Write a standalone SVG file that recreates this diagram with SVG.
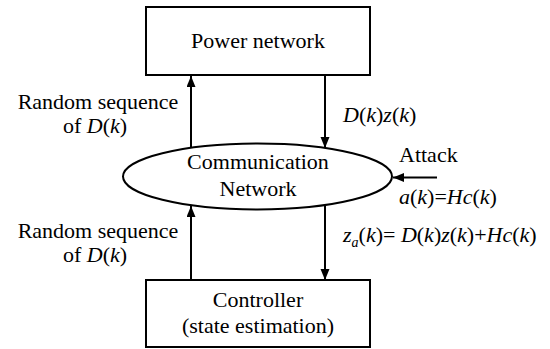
<svg xmlns="http://www.w3.org/2000/svg" width="550" height="349" viewBox="0 0 550 349">
<style>
.t{font-family:'Liberation Serif','Times New Roman',Times,serif;font-size:22px;fill:#000}
.m{text-anchor:middle}
.i{font-style:italic}
.box{fill:#fff;stroke:#000;stroke-width:2}
.ln{stroke:#000;stroke-width:2;fill:none}
</style>
<defs>
<marker id="ah" markerUnits="userSpaceOnUse" markerWidth="12" markerHeight="10" refX="11" refY="4.5" orient="auto">
<path d="M0,0 L11,4.5 L0,9 z" fill="#000"/>
</marker>
</defs>
<rect width="550" height="349" fill="#fff"/>
<g id="power-network">
<rect class="box" x="146" y="7" width="224" height="68"/>
<text class="t m" font-family="Liberation Serif, serif" x="258" y="48">Power network</text>
</g>
<g id="communication-network">
<ellipse class="ln" cx="257.5" cy="176.5" rx="134.5" ry="33"/>
<text class="t m" font-family="Liberation Serif, serif" x="258" y="169">Communication</text>
<text class="t m" font-family="Liberation Serif, serif" x="258" y="196">Network</text>
</g>
<g id="controller">
<rect class="box" x="146" y="280" width="224" height="67"/>
<text class="t m" font-family="Liberation Serif, serif" x="258" y="307">Controller</text>
<text class="t m" font-family="Liberation Serif, serif" x="258" y="333">(state estimation)</text>
</g>
<g id="connectors">
<line class="ln" x1="191" y1="148" x2="191" y2="76" marker-end="url(#ah)"/>
<line class="ln" x1="325" y1="75" x2="325" y2="148" marker-end="url(#ah)"/>
<line class="ln" x1="191" y1="280" x2="191" y2="206" marker-end="url(#ah)"/>
<line class="ln" x1="325" y1="206" x2="325" y2="280" marker-end="url(#ah)"/>
<line class="ln" x1="437" y1="177.5" x2="393" y2="177.5" marker-end="url(#ah)"/>
</g>
<g id="labels" font-family="Liberation Serif, serif">
<text class="t m" x="98" y="109">Random sequence</text>
<text class="t m" x="95" y="133">of <tspan class="i">D</tspan>(<tspan class="i">k</tspan>)</text>
<text class="t m" x="98" y="238">Random sequence</text>
<text class="t m" x="95" y="262">of <tspan class="i">D</tspan>(<tspan class="i">k</tspan>)</text>
<text class="t" x="343" y="122"><tspan class="i">D</tspan>(<tspan class="i">k</tspan>)<tspan class="i">z</tspan>(<tspan class="i">k</tspan>)</text>
<text class="t" x="399" y="162">Attack</text>
<text class="t" x="399" y="204"><tspan class="i">a</tspan>(<tspan class="i">k</tspan>)=<tspan class="i">Hc</tspan>(<tspan class="i">k</tspan>)</text>
<text class="t" x="343" y="242"><tspan class="i">z</tspan><tspan class="i" font-size="14" dy="5">a</tspan><tspan dy="-5">(</tspan><tspan class="i">k</tspan>)= <tspan class="i">D</tspan>(<tspan class="i">k</tspan>)<tspan class="i">z</tspan>(<tspan class="i">k</tspan>)+<tspan class="i">Hc</tspan>(<tspan class="i">k</tspan>)</text>
</g>
</svg>
